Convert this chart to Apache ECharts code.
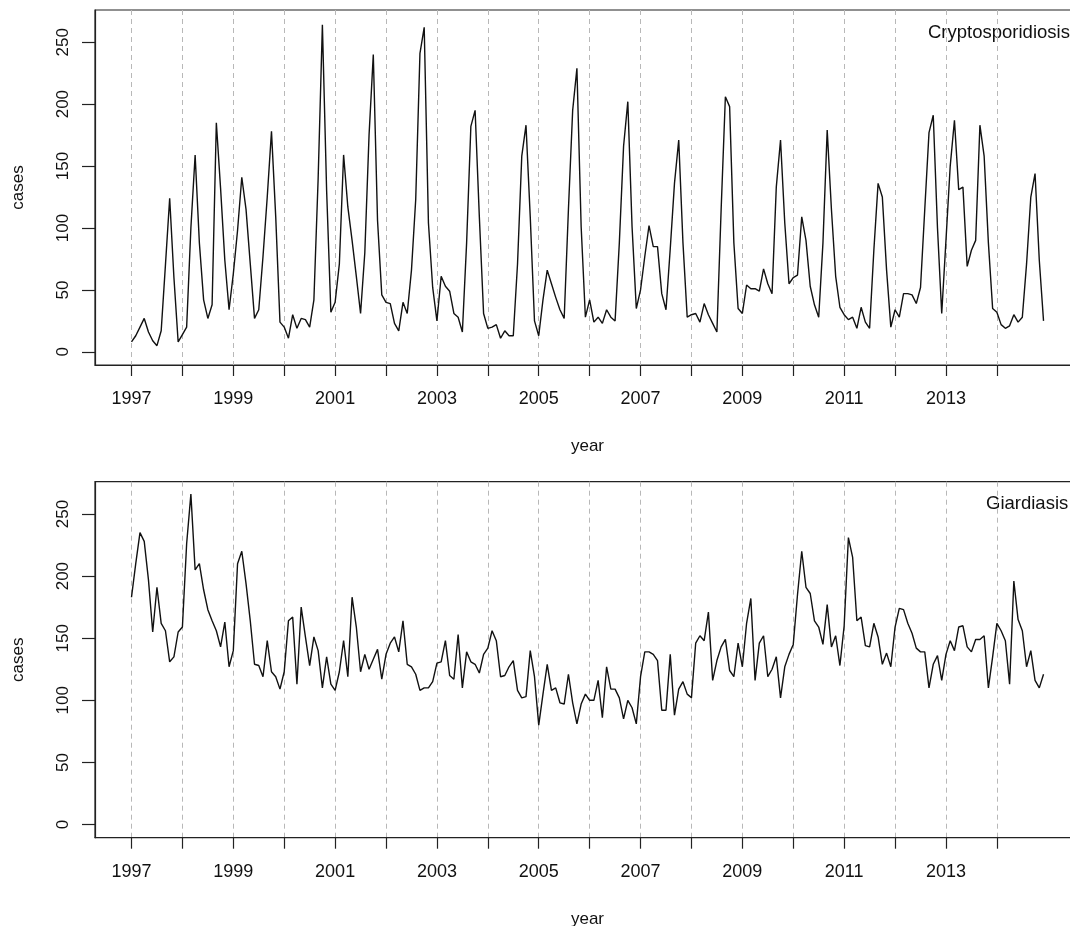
<!DOCTYPE html>
<html>
<head>
<meta charset="utf-8">
<script src="https://cdn.jsdelivr.net/npm/echarts@6/dist/echarts.min.js"></script>
<style>
html,body{margin:0;padding:0;background:#ffffff;}
#chart{width:1070px;height:926px;}
</style>
</head>
<body>
<div id="chart"></div>
<script>
// ---- data (monthly case counts, Jan 1997 .. Dec 2014) ----
const startYear = 1997;
const monthsPerYear = 12;

const cryptoCases = [
  8, 13, 20, 27, 16, 9, 5, 17, 70, 124, 60, 8,
  14, 20, 100, 159, 88, 42, 27, 38, 185, 132, 74, 34,
  63, 98, 141, 115, 71, 27, 34, 77, 125, 178, 109, 24,
  20, 11, 30, 19, 27, 26, 20, 42, 140, 264, 130, 32,
  40, 71, 159, 117, 90, 61, 31, 80, 175, 240, 106, 46,
  40, 39, 23, 17, 40, 31, 66, 123, 241, 262, 104, 52,
  25, 61, 53, 49, 31, 28, 16, 88, 182, 195, 109, 31,
  19, 20, 22, 11, 17, 13, 13, 71, 158, 183, 109, 25,
  13, 42, 66, 55, 44, 34, 27, 115, 195, 229, 101, 28,
  42, 24, 28, 23, 34, 28, 25, 88, 166, 202, 101, 35,
  50, 77, 102, 85, 85, 47, 34, 83, 136, 171, 88, 28,
  30, 31, 24, 39, 30, 23, 16, 115, 206, 198, 88, 35,
  31, 54, 51, 51, 49, 67, 55, 47, 133, 171, 104, 55,
  60, 62, 109, 90, 53, 38, 28, 88, 179, 115, 61, 36,
  30, 26, 28, 19, 36, 24, 19, 82, 136, 125, 66, 20,
  34, 28, 47, 47, 46, 39, 52, 115, 177, 191, 100, 31,
  90, 150, 187, 131, 133, 69, 82, 90, 183, 158, 88, 35,
  32, 22, 19, 21, 30, 24, 28, 71, 125, 144, 74, 25
];

const giardiaCases = [
  183, 210, 235, 228, 197, 155, 191, 162, 156, 131, 135, 155,
  159, 226, 266, 205, 210, 189, 173, 164, 156, 143, 163, 127,
  140, 210, 220, 194, 164, 129, 128, 119, 148, 123, 119, 109,
  123, 164, 167, 113, 175, 151, 128, 151, 140, 110, 135, 113,
  108, 123, 148, 119, 183, 159, 123, 137, 125, 133, 141, 117,
  137, 146, 151, 139, 164, 129, 127, 121, 108, 110, 110, 115,
  130, 131, 148, 120, 117, 153, 110, 139, 131, 129, 122, 137,
  142, 156, 148, 119, 120, 127, 132, 108, 102, 103, 140, 119,
  80, 105, 129, 108, 110, 98, 97, 121, 98, 81, 97, 105,
  100, 100, 116, 86, 127, 109, 109, 102, 85, 100, 94, 81,
  119, 139, 139, 137, 132, 92, 92, 137, 88, 109, 115, 105,
  102, 146, 152, 148, 171, 116, 132, 143, 149, 124, 119, 146,
  127, 162, 182, 116, 146, 152, 119, 125, 135, 102, 127, 137,
  145, 185, 220, 191, 186, 164, 159, 145, 177, 143, 152, 128,
  160, 231, 215, 164, 167, 144, 143, 162, 151, 129, 138, 127,
  159, 174, 173, 162, 154, 142, 139, 139, 110, 129, 136, 116,
  137, 148, 140, 159, 160, 143, 139, 149, 149, 152, 110, 135,
  162, 156, 148, 113, 196, 165, 156, 127, 140, 116, 110, 121
];

const yearTicks = [1997, 1998, 1999, 2000, 2001, 2002, 2003, 2004, 2005, 2006, 2007, 2008, 2009, 2010, 2011, 2012, 2013, 2014];
const yearLabels = [1997, 1999, 2001, 2003, 2005, 2007, 2009, 2011, 2013];
const caseTicks = [0, 50, 100, 150, 200, 250];
const panelTitles = ['Cryptosporidiosis', 'Giardiasis'];
const xAxisName = 'year';
const yAxisName = 'cases';

// ---- build ----
function toPairs(values) {
  return values.map((v, i) => [startYear + i / monthsPerYear, v]);
}

const FONT = '"Liberation Sans", Arial, Helvetica, sans-serif';
const INK = '#222';

const panels = [
  { top: 10, height: 355 },
  { top: 481.7, height: 356 }
];

const grids = panels.map(p => ({
  left: 95, top: p.top, width: 985, height: p.height,
  outerBoundsMode: 'none', containLabel: false,
  show: true, borderColor: INK, borderWidth: 1.2, backgroundColor: 'transparent'
}));

const xAxes = panels.map((p, k) => ({
  type: 'value', gridIndex: k,
  min: 1996.283, max: 2015.633,
  name: xAxisName, nameLocation: 'middle', nameGap: 73,
  nameTextStyle: { fontFamily: FONT, fontSize: 17, color: '#111' },
  axisLine: { show: true, onZero: false, lineStyle: { color: INK, width: 1.2 } },
  axisTick: { show: true, customValues: yearTicks, length: 11, lineStyle: { color: INK, width: 1.2 } },
  axisLabel: {
    customValues: yearLabels, margin: 25,
    fontFamily: FONT, fontSize: 18, color: '#111',
    formatter: v => String(v)
  },
  splitLine: { show: true, lineStyle: { color: '#b8b8b8', type: [5, 4], width: 1 } }
}));

const yAxes = panels.map((p, k) => ({
  type: 'value', gridIndex: k,
  min: -10.6, max: 276,
  name: yAxisName, nameLocation: 'middle', nameRotate: 90, nameGap: 68,
  nameTextStyle: { fontFamily: FONT, fontSize: 17, color: '#111' },
  axisLine: { show: true, onZero: false, lineStyle: { color: INK, width: 1.2 } },
  axisTick: { show: true, customValues: caseTicks, length: 13, lineStyle: { color: INK, width: 1.2 } },
  axisLabel: {
    customValues: caseTicks, rotate: 90, margin: 23,
    fontFamily: FONT, fontSize: 17, color: '#111',
    formatter: v => String(v)
  },
  splitLine: { show: false }
}));

const seriesList = [cryptoCases, giardiaCases].map((vals, k) => ({
  type: 'line', xAxisIndex: k, yAxisIndex: k,
  data: toPairs(vals),
  showSymbol: false, symbol: 'none',
  lineStyle: { color: '#111', width: 1.4 },
  silent: true, animation: false
}));

const titleGraphics = panelTitles.map((t, k) => ({
  type: 'text', left: k === 0 ? 928 : 986, top: panels[k].top + 13,
  style: { text: t, fontFamily: FONT, fontSize: 18.5, fill: '#111' }
}));

const chart = echarts.init(document.getElementById('chart'), null, { renderer: 'canvas' });
chart.setOption({
  animation: false,
  backgroundColor: '#ffffff',
  grid: grids,
  xAxis: xAxes,
  yAxis: yAxes,
  series: seriesList,
  graphic: titleGraphics
});
</script>
</body>
</html>
